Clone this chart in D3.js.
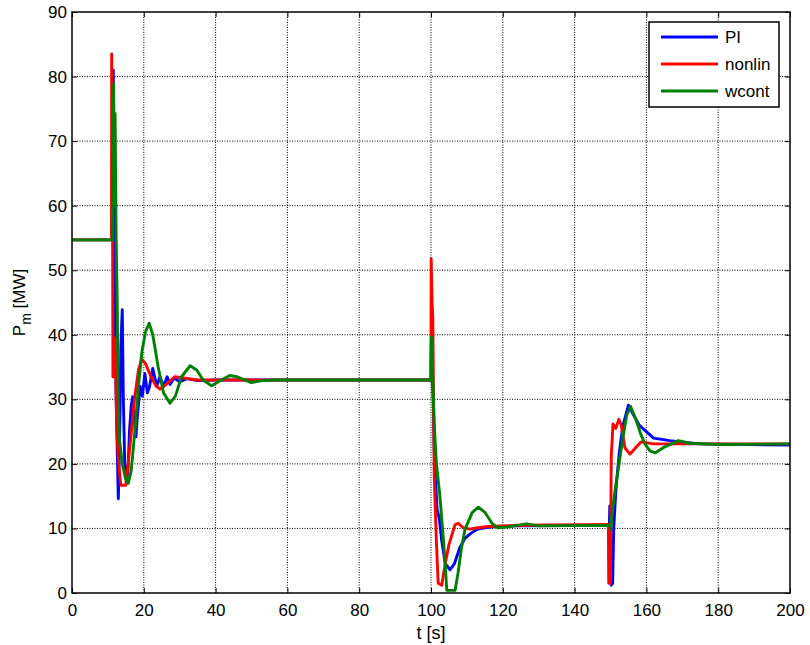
<!DOCTYPE html>
<meta charset="utf-8">
<style>
body { margin: 0; background: #fff; }
text { font-family: Arial, "Liberation Sans", sans-serif; fill: #000; }
.grid line { stroke: #000; stroke-width: 1; stroke-dasharray: 1,1.5; }
.series { fill: none; stroke-width: 2.9; stroke-linejoin: round; }
</style>
<svg width="810" height="645"></svg>
<script src="https://d3js.org/d3.v7.min.js"></script>
<script>

var xTicks = [0, 20, 40, 60, 80, 100, 120, 140, 160, 180, 200];
var yTicks = [0, 10, 20, 30, 40, 50, 60, 70, 80, 90];
var seriesNames = ["PI", "nonlin", "wcont"];
var seriesColors = ["#0000ff", "#ff0000", "#008000"];

// [t, Pm]
var piData = [[0,54.7],[11.4,54.7],[11.5,81],[11.7,60],[11.9,45],[12.3,30],[12.9,14.6],[13.3,25],[13.6,38],
  [14.0,43.9],[14.3,30],[14.7,20],[15.2,17.5],[15.6,19],[16.0,25],[16.5,29],[16.9,30.4],[17.3,27],[17.8,24.2],
  [18.3,28],[19,32],[19.6,30.5],[20.3,34],[21,31],[21.6,32],[22.5,34.8],[23.6,32],[24.5,33.5],[25.5,32],
  [26.5,33.5],[27.3,32.3],[28.5,33.3],[30,32.7],[32,33.2],[35,32.9],[40,33],[100,33],[100.1,39],[100.6,30],
  [101.0,20],[101.7,12.9],[102.3,11.6],[103,8],[104,4.5],[105.3,3.6],[106.5,4.5],[108,7],[109.5,8.5],[111,9.2],
  [113,9.9],[115,10.1],[117.6,10.3],[125,10.4],[149.7,10.5],[149.8,13.5],[150.2,1.2],[150.6,1.5],[150.9,10],
  [151.5,16],[152.5,22],[153.5,26],[155,29.1],[156.5,27.5],[158,26],[159.6,25.2],[162,24],[166.5,23.6],
  [175,23.1],[200,22.9]];

var nonlinData = [[0,54.7],[11.0,54.7],[11.05,83.5],[11.3,60],[11.4,33.5],[11.9,33.5],[12.0,39.5],[12.5,25],
  [13.0,20],[13.6,16.7],[15.0,16.7],[16.0,22],[17.4,30],[18.5,34.5],[19.4,36.2],[20.5,35.5],[22,33.5],
  [23.5,32],[24.5,31.6],[26,32.2],[28.6,33.5],[31,33.3],[35,33],[100,33],[100.05,51.8],[100.3,45],[100.5,42.8],
  [100.7,30],[100.9,18],[101.5,8],[102.0,1.5],[103,1.2],[103.5,3],[104,4.6],[105,7.5],[106.7,10.6],[107.6,10.8],
  [109,10.1],[110.9,9.9],[113,10.1],[116,10.3],[125,10.5],[149.4,10.6],[149.5,1.5],[150.0,1.5],[150.2,21],
  [150.7,26.2],[151.5,25.5],[152.3,26.9],[153,26],[154,22.5],[155.4,21.5],[157,22.5],[158.5,23.4],[162,23.1],
  [200,23.1]];

var wcontData = [[0,54.7],[11.2,54.7],[11.3,66],[11.6,78.8],[11.8,60],[12.0,74.3],[12.3,55],[12.6,45],[12.9,30],
  [13.2,24],[14.0,20],[15.0,17.5],[15.7,17],[16.5,19],[17.5,25],[18.5,32],[19.5,37.5],[20.5,40.5],[21.5,41.8],
  [22.5,40],[24,35],[25.5,31],[27.3,29.4],[28.8,30.5],[30.5,33.5],[32.9,35.2],[34.8,34.5],[36.5,33],[38.9,32.1],
  [41,32.8],[43.9,33.7],[46,33.5],[49.9,32.6],[53,32.9],[57,33],[100,33],[100.1,39.7],[100.4,36],[100.6,31],
  [101.0,25],[101.5,20.1],[102.5,14.9],[103.5,8],[104,4],[104.4,0.4],[106.7,0.4],[107.5,3],[108.5,7],[109.5,9.9],
  [111.5,12.5],[113.2,13.3],[115,12.5],[117,10.8],[118.6,10.1],[121,10.2],[126.5,10.7],[130,10.4],[149.8,10.5],
  [150.0,9.8],[150.8,14],[151.7,17.5],[153.3,23.5],[154.5,27.5],[155.6,28.9],[157,27],[158.5,24.5],[159.6,23.1],
  [161,22],[162.4,21.7],[165,22.6],[168.9,23.6],[172,23.2],[180,23],[200,23.1]];

var allData = [piData, nonlinData, wcontData];

var svg = d3.select("svg"),
    margin = {top: 12, right: 20, bottom: 52, left: 72},
    width = +svg.attr("width") - margin.left - margin.right,
    height = +svg.attr("height") - margin.top - margin.bottom;

var x = d3.scaleLinear().domain([0, 200]).range([0, width]),
    y = d3.scaleLinear().domain([0, 90]).range([height, 0]);

var g = svg.append("g")
    .attr("transform", "translate(" + margin.left + "," + margin.top + ")");

// grid
var grid = g.append("g").attr("class", "grid");
grid.selectAll(".gx")
  .data(xTicks.slice(1, -1))
  .enter().append("line")
    .attr("x1", function(d) { return x(d); })
    .attr("x2", function(d) { return x(d); })
    .attr("y1", 0).attr("y2", height);
grid.selectAll(".gy")
  .data(yTicks.slice(1, -1))
  .enter().append("line")
    .attr("y1", function(d) { return y(d); })
    .attr("y2", function(d) { return y(d); })
    .attr("x1", 0).attr("x2", width);

// clip so lines stay inside the box
g.append("clipPath").attr("id", "clip")
  .append("rect").attr("width", width).attr("height", height);

var line = d3.line()
    .x(function(d) { return x(d[0]); })
    .y(function(d) { return y(d[1]); });

g.append("g").attr("clip-path", "url(#clip)")
  .selectAll(".series")
  .data(allData)
  .enter().append("path")
    .attr("class", "series")
    .attr("stroke", function(d, i) { return seriesColors[i]; })
    .attr("d", line);

// axes, ticks pointing inward
var axisBottom = d3.axisBottom(x).tickValues(xTicks).tickSizeInner(-5).tickSizeOuter(0).tickPadding(10);
var axisLeft = d3.axisLeft(y).tickValues(yTicks).tickSizeInner(-5).tickSizeOuter(0).tickPadding(5);

var gx = g.append("g")
    .attr("transform", "translate(0," + height + ")")
    .call(axisBottom);
var gy = g.append("g").call(axisLeft);

g.append("g").call(d3.axisTop(x).tickValues(xTicks).tickSizeInner(-5).tickSizeOuter(0).tickFormat(""));
g.append("g").attr("transform", "translate(" + width + ",0)")
  .call(d3.axisRight(y).tickValues(yTicks).tickSizeInner(-5).tickSizeOuter(0).tickFormat(""));

g.selectAll(".domain").remove();
g.selectAll(".tick line").attr("stroke", "#000");
gx.selectAll("text").style("font-size", "17px").attr("dy", "0.75em");
gy.selectAll("text").style("font-size", "17px");

g.append("rect")
    .attr("width", width).attr("height", height)
    .attr("fill", "none").attr("stroke", "#000").attr("stroke-width", 1.5);

// axis labels
svg.append("text")
    .attr("x", margin.left + width / 2)
    .attr("y", 639)
    .attr("text-anchor", "middle")
    .style("font-size", "18px")
    .text("t [s]");

var yl = svg.append("text")
    .attr("transform", "translate(25," + (margin.top + height / 2) + ") rotate(-90)")
    .attr("text-anchor", "middle")
    .style("font-size", "17px");
yl.append("tspan").text("P");
yl.append("tspan").attr("dy", "6").style("font-size", "14px").text("m");
yl.append("tspan").attr("dy", "-6").text(" [MW]");

// legend
var lg = svg.append("g").attr("transform", "translate(649,22)");
lg.append("rect")
    .attr("width", 130).attr("height", 85)
    .attr("fill", "#fff").attr("stroke", "#000").attr("stroke-width", 1.5);
var items = lg.selectAll(".item")
  .data(seriesNames)
  .enter().append("g")
    .attr("transform", function(d, i) { return "translate(0," + (15 + i * 27) + ")"; });
items.append("line")
    .attr("x1", 12).attr("x2", 69)
    .attr("stroke", function(d, i) { return seriesColors[i]; })
    .attr("stroke-width", 2.9);
items.append("text")
    .attr("x", 76).attr("dy", "0.35em")
    .style("font-size", "17px")
    .text(function(d) { return d; });

</script>
